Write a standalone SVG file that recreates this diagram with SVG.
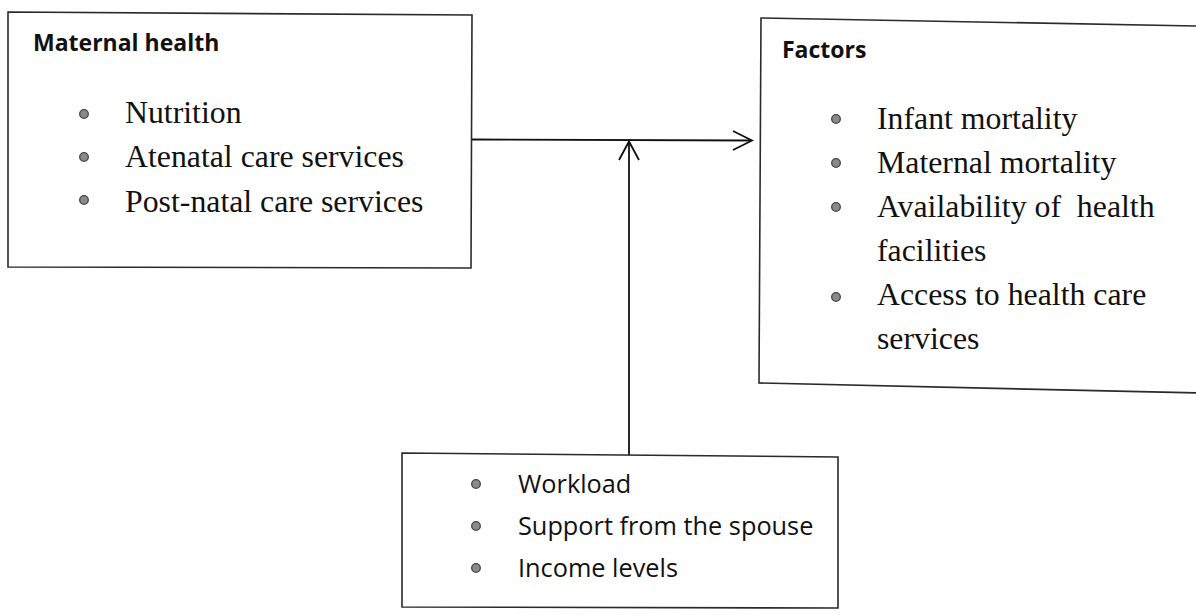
<svg xmlns="http://www.w3.org/2000/svg" width="1196" height="615" viewBox="0 0 1196 615">
  <style>
    .box { fill: #ffffff; stroke: #2a2a2a; stroke-width: 1.6; }
    .title { font-family: "Open Sans", "DejaVu Sans", sans-serif; font-weight: 700; font-size: 23px; fill: #111; }
    .serif { font-family: "Liberation Serif", "Times New Roman", serif; font-size: 31.8px; fill: #111; }
    .sans { font-family: "Open Sans", "DejaVu Sans", sans-serif; font-size: 25.3px; fill: #111; }
    .bullet { fill: #8a8a8a; stroke: #444; stroke-width: 1.3; }
    .conn { fill: none; stroke: #111; stroke-width: 1.8; }
  </style>
  <rect x="0" y="0" width="1196" height="615" fill="#ffffff"/>

  <g id="connectors">
    <path class="conn" d="M471 139.5 L751 140.5"/>
    <path class="conn" d="M733 131 L752 140.5 L733 150"/>
    <path class="conn" d="M629 455 L629 142"/>
    <path class="conn" d="M619 160 L629 141.5 L639 160"/>
  </g>

  <g id="maternal-health">
    <path class="box" d="M8 12 L472 15 L471 268 L8 267 Z"/>
    <text class="title" x="33" y="51">Maternal health</text>
    <circle class="bullet" cx="84" cy="114" r="4.3"/>
    <text class="serif" x="125" y="123">Nutrition</text>
    <circle class="bullet" cx="84" cy="157" r="4.3"/>
    <text class="serif" x="125" y="167">Atenatal care services</text>
    <circle class="bullet" cx="84" cy="200" r="4.3"/>
    <text class="serif" x="125" y="212">Post-natal care services</text>
  </g>

  <g id="factors">
    <path class="box" d="M761 18 L1200 26 L1200 393 L759 383 Z"/>
    <text class="title" x="782" y="58">Factors</text>
    <circle class="bullet" cx="836" cy="119" r="4.3"/>
    <text class="serif" x="877" y="129">Infant mortality</text>
    <circle class="bullet" cx="836" cy="163" r="4.3"/>
    <text class="serif" x="877" y="173">Maternal mortality</text>
    <circle class="bullet" cx="836" cy="207" r="4.3"/>
    <text class="serif" x="877" y="217" xml:space="preserve">Availability of  health</text>
    <text class="serif" x="877" y="261">facilities</text>
    <circle class="bullet" cx="836" cy="297" r="4.3"/>
    <text class="serif" x="877" y="305">Access to health care</text>
    <text class="serif" x="877" y="349">services</text>
  </g>

  <g id="moderators">
    <path class="box" d="M402 453 L838 457 L838 608 L402 607 Z"/>
    <circle class="bullet" cx="476" cy="484" r="4.3"/>
    <text class="sans" x="518" y="493">Workload</text>
    <circle class="bullet" cx="476" cy="526" r="4.3"/>
    <text class="sans" x="518" y="535">Support from the spouse</text>
    <circle class="bullet" cx="476" cy="568" r="4.3"/>
    <text class="sans" x="518" y="577">Income levels</text>
  </g>
</svg>
